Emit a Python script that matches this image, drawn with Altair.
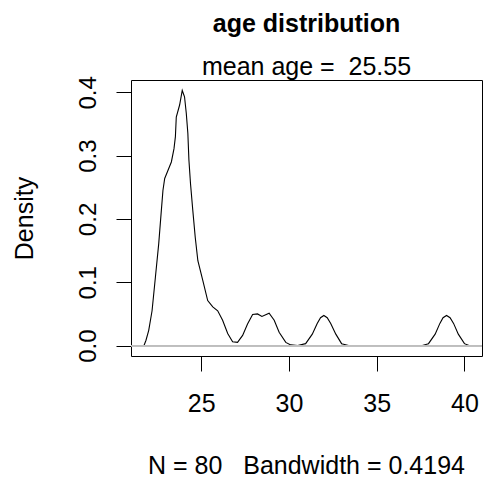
import altair as alt
import pandas as pd

# Kernel density estimate of age (N = 80, bandwidth 0.4194), traced as (age, density) pairs
age = [21.74, 21.85, 22.01, 22.20, 22.39, 22.58, 22.73, 22.82, 22.92, 23.11,
       23.30, 23.45, 23.53, 23.58, 23.77, 23.92, 24.05, 24.15, 24.24, 24.30,
       24.39, 24.52, 24.66, 24.81, 25.09, 25.37, 25.66, 25.94, 26.22, 26.51,
       26.79, 27.07, 27.36, 27.64, 27.93, 28.21, 28.46, 28.87, 29.16, 29.44,
       29.82, 30.10, 30.50, 30.95, 31.33, 31.61, 31.80, 31.99, 32.18, 32.38,
       32.67, 33.00, 33.40, 35.50, 37.60, 37.95, 38.33, 38.60, 38.78, 38.98,
       39.18, 39.38, 39.65, 40.00, 40.26]
density = [0.000, 0.008, 0.024, 0.055, 0.108, 0.161, 0.214, 0.245, 0.264, 0.277,
           0.290, 0.311, 0.330, 0.361, 0.380, 0.403, 0.393, 0.367, 0.335, 0.293,
           0.256, 0.214, 0.171, 0.134, 0.103, 0.071, 0.061, 0.055, 0.040, 0.019,
           0.006, 0.005, 0.016, 0.034, 0.049, 0.050, 0.046, 0.051, 0.040, 0.021,
           0.005, 0.001, 0.000, 0.003, 0.018, 0.035, 0.044, 0.0475, 0.044, 0.035,
           0.018, 0.003, 0.000, 0.000, 0.000, 0.003, 0.018, 0.035, 0.044, 0.0475,
           0.044, 0.035, 0.018, 0.003, 0.000]

x_ticks = [25, 30, 35, 40]
y_ticks = [0.0, 0.1, 0.2, 0.3, 0.4]

df = pd.DataFrame({"age": age, "density": density})

FONT = "Liberation Sans"
NBSP = "\u00a0"  # keeps the doubled spaces from collapsing in SVG text

x_scale = alt.Scale(domain=[21.0, 41.0], nice=False, zero=False)
y_scale = alt.Scale(domain=[-0.0165, 0.4195], nice=False, zero=False)

# every axis draws its domain line, so the four of them form the plot frame
BOX = dict(domain=True, domainColor="black", domainWidth=1, grid=False)
FRAME_ONLY = dict(title=None, labels=False, ticks=False, **BOX)

curve = alt.Chart(df).mark_line(color="black", strokeWidth=1.1).encode(
    x=alt.X(
        "age:Q",
        scale=x_scale,
        axis=alt.Axis(
            values=x_ticks,
            format="d",
            title=f"N = 80 {NBSP}{NBSP}Bandwidth = 0.4194",
            titleFont=FONT,
            titleFontSize=25,
            titleFontWeight="normal",
            titleColor="black",
            titleBaseline="alphabetic",
            titleAlign="center",
            titleX=175,
            titleY=117,
            labelFont=FONT,
            labelFontSize=25,
            labelColor="black",
            labelBaseline="top",
            labelAlign="center",
            labelPadding=20,
            labelFlush=False,
            labelOverlap=False,
            tickColor="black",
            tickSize=15,
            tickWidth=1,
            **BOX,
        ),
    ),
    y=alt.Y(
        "density:Q",
        scale=y_scale,
        axis=alt.Axis(
            values=y_ticks,
            format=".1f",
            title="Density",
            titleFont=FONT,
            titleFontSize=25,
            titleFontWeight="normal",
            titleColor="black",
            titleAngle=270,
            titleBaseline="alphabetic",
            titleAlign="center",
            titleX=-99,
            titleY=138,
            labelFont=FONT,
            labelFontSize=24,
            labelColor="black",
            labelAngle=270,
            labelAlign="center",
            labelBaseline="alphabetic",
            labelPadding=21,
            labelFlush=False,
            labelOverlap=False,
            tickColor="black",
            tickSize=15,
            tickWidth=1,
            **BOX,
        ),
    ),
)

# top edge of the frame: an invisible layer whose x axis sits on top
top_frame = alt.Chart(df).mark_line(opacity=0).encode(
    x=alt.X("age:Q", scale=x_scale, axis=alt.Axis(orient="top", **FRAME_ONLY)),
    y=alt.Y("density:Q", scale=y_scale, axis=None),
)

# gray zero line drawn over the curve; its y axis sits on the right edge
zero_line = alt.Chart(df).mark_rule(color="#bebebe", strokeWidth=1).encode(
    y=alt.datum(0, scale=y_scale, axis=alt.Axis(orient="right", **FRAME_ONLY)),
)

chart = (
    alt.layer(curve, top_frame, zero_line)
    .resolve_axis(x="independent", y="independent")
    .properties(
        width=351,
        height=276,
        background="white",
        padding={"left": 131, "top": 80, "right": 1, "bottom": 123},
        autosize=alt.AutoSizeParams(type="none"),
        title=alt.TitleParams(
            text="age distribution",
            subtitle=f"mean age = {NBSP}25.55",
            font=FONT,
            fontSize=25,
            fontWeight="bold",
            color="black",
            subtitleFont=FONT,
            subtitleFontSize=25,
            subtitleColor="black",
            subtitlePadding=18,
            anchor="middle",
            offset=-4,
        ),
    )
    .configure_view(stroke=None)
)

chart.save("out.html", embed_options={"renderer": "svg", "actions": False})
